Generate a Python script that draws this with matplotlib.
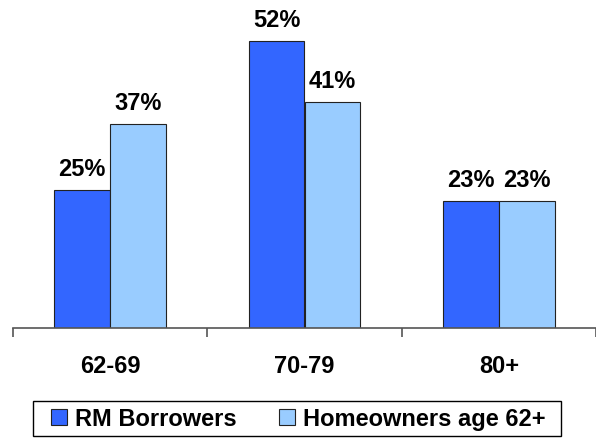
import matplotlib
matplotlib.use("Agg")
import matplotlib.pyplot as plt
from matplotlib.patches import Rectangle
import numpy as np

categories = ["62-69", "70-79", "80+"]
rm_borrowers = [25, 52, 23]
homeowners = [37, 41, 23]
series_names = ["RM Borrowers", "Homeowners age 62+"]

plt.rcParams["font.family"] = ["Liberation Sans", "DejaVu Sans"]
plt.rcParams["font.weight"] = "bold"

W, H = 596, 439
fig = plt.figure(figsize=(W / 100, H / 100), dpi=100)
ax = fig.add_axes([13 / W, 110 / H, 583 / W, 329 / H])

x = np.arange(len(categories))
w = 0.287
b1 = ax.bar(x - w / 2, rm_borrowers, w, color="#3366FF", edgecolor="#222222", linewidth=0.8, label=series_names[0])
b2 = ax.bar(x + w / 2, homeowners, w, color="#99CCFF", edgecolor="#222222", linewidth=0.8, label=series_names[1])

for bars, vals in ((b1, rm_borrowers), (b2, homeowners)):
    for r, v in zip(bars, vals):
        ax.annotate("%d%%" % v, (r.get_x() + r.get_width() / 2, v),
                    xytext=(0, 10.5), textcoords="offset points",
                    ha="center", va="baseline", fontsize=17, fontweight="bold")

ax.set_xlim(-0.5, 2.459)
ax.set_ylim(0, 59.6)

for s in ["top", "right", "left"]:
    ax.spines[s].set_visible(False)
ax.spines["bottom"].set_color("#555555")
ax.spines["bottom"].set_linewidth(1.2)
ax.set_yticks([])

ax.set_xticks(x)
ax.set_xticklabels(categories, fontsize=17, fontweight="bold")
ax.tick_params(axis="x", which="major", length=0, pad=19)
ax.set_xticks(np.arange(len(categories) + 1) - 0.5, minor=True)
ax.tick_params(axis="x", which="minor", length=6.5, width=1.2, color="#555555", direction="out")

# legend box drawn separately so its padding matches
fig.patches.append(Rectangle((33 / W, 1 - 437 / H), (561 - 33) / W, 35 / H,
                             transform=fig.transFigure, fill=False,
                             edgecolor="black", linewidth=1.0))
leg = fig.legend(loc="center", bbox_to_anchor=(298 / W, 1 - 420 / H), ncol=2,
                 fontsize=17, frameon=False,
                 handlelength=0.68, handleheight=0.68, handletextpad=0.34,
                 columnspacing=1.8, borderpad=0, borderaxespad=0)
for t in leg.get_texts():
    t.set_fontweight("bold")

fig.savefig("out.png", dpi=100)
